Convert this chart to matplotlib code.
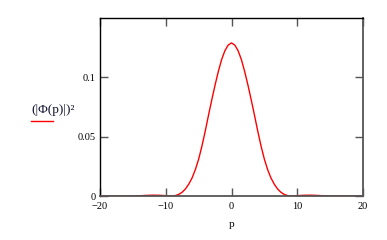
import matplotlib
matplotlib.use("Agg")
import matplotlib.pyplot as plt
from matplotlib.lines import Line2D

# momentum values p and |Phi(p)|^2
p = [-20, -19, -18, -17, -16, -15, -14, -13, -12, -11, -10, -9.5, -9,
     -8.5, -8, -7.5, -7, -6.5, -6, -5.5, -5, -4.5, -4, -3.5, -3, -2.5,
     -2, -1.5, -1, -0.5, 0, 0.5, 1, 1.5, 2, 2.5, 3, 3.5, 4, 4.5, 5,
     5.5, 6, 6.5, 7, 7.5, 8, 8.5, 9, 9.5, 10, 11, 12, 13, 14, 15, 16,
     17, 18, 19, 20]
phi2 = [0.0, 0.0, 0.0, 0.0, 0.0, 0.0, 0.0002, 0.0005, 0.0007, 0.0006, 0.0003, 0.0001, 0.0,
        0.0004, 0.0014, 0.0032, 0.0060, 0.0100, 0.0152, 0.0222, 0.0310, 0.0420, 0.0545, 0.0680, 0.0810, 0.0935,
        0.1050, 0.1150, 0.1225, 0.1272, 0.1290, 0.1272, 0.1225, 0.1150, 0.1050, 0.0935, 0.0810, 0.0680, 0.0545, 0.0420, 0.0310,
        0.0222, 0.0152, 0.0100, 0.0060, 0.0032, 0.0014, 0.0004, 0.0, 0.0001, 0.0003, 0.0006, 0.0007, 0.0005, 0.0002, 0.0, 0.0,
        0.0, 0.0, 0.0, 0.0]

xticks = [-20, -10, 0, 10, 20]
xticklabels = ["\u221220", "\u221210", "0", "10", "20"]
yticks = [0, 0.05, 0.1]
yticklabels = ["0", "0.05", "0.1"]

serif = "Liberation Serif"

fig = plt.figure(figsize=(3.87, 2.40), dpi=100)
ax = fig.add_axes([100 / 387, 1 - 196 / 240, 263 / 387, 178 / 240])

ax.plot(p, phi2, color="red", lw=1.0)

ax.set_xlim(-20, 20)
ax.set_ylim(0, 0.15)
ax.set_xticks(xticks)
ax.set_xticklabels(xticklabels, fontfamily=serif, fontsize=7.5)
ax.set_yticks(yticks)
ax.set_yticklabels(yticklabels, fontfamily=serif, fontsize=7.5)
ax.tick_params(direction="in", length=6, width=1, color="#555555",
               top=True, right=True)
ax.tick_params(axis="x", pad=4)
ax.tick_params(axis="y", pad=3)

for side in ["top", "left"]:
    ax.spines[side].set_color("black")
    ax.spines[side].set_linewidth(1.0)
for side in ["bottom", "right"]:
    ax.spines[side].set_color("#555555")
    ax.spines[side].set_linewidth(1.3)

ax.set_xlabel("p", fontfamily=serif, fontsize=8, labelpad=7)

fig.text(31 / 387, 1 - 110 / 240, "(|\u03a6(p)|)\u00b2", fontfamily=serif,
         fontsize=9.5, color="#101030", ha="left", va="center")
fig.add_artist(Line2D([31 / 387, 53 / 387], [1 - 121 / 240, 1 - 121 / 240],
                      color="red", lw=1.0, transform=fig.transFigure))

fig.savefig("out.png", dpi=100)
